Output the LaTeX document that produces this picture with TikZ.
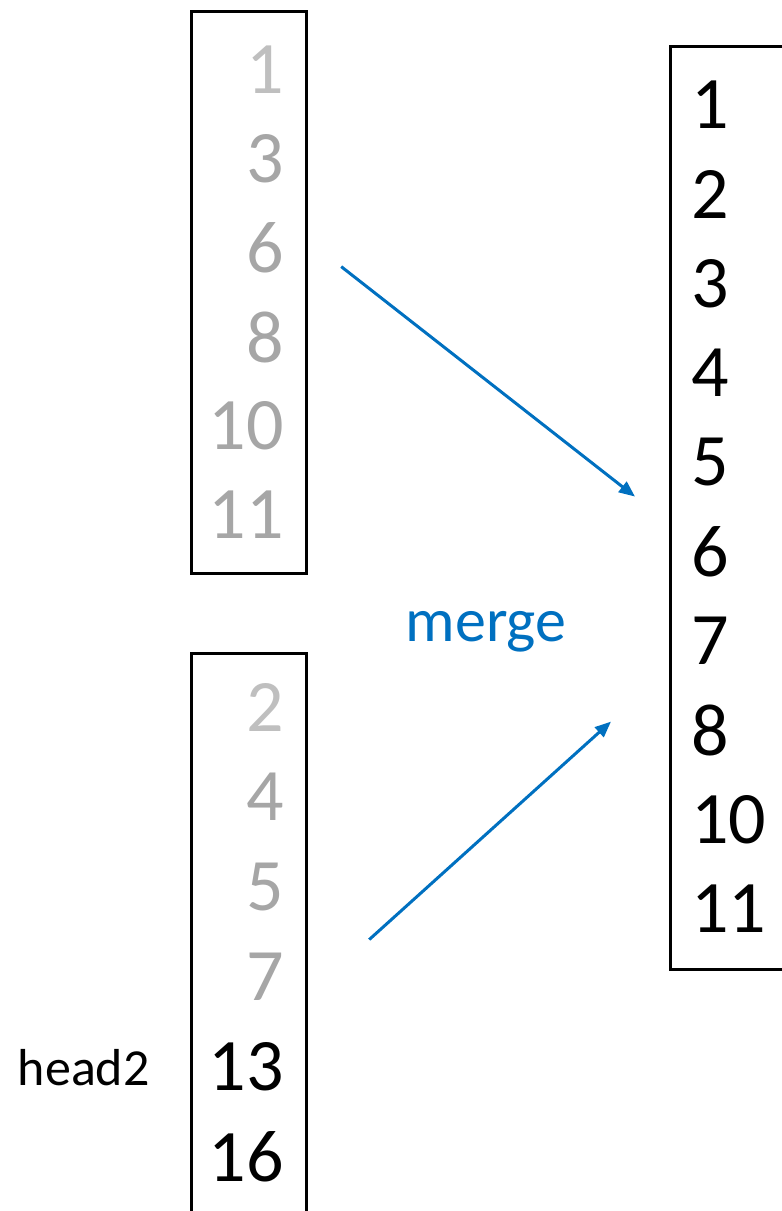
\documentclass[tikz,border=0pt]{standalone}
\usepackage{fontspec}
\setmainfont{Carlito}
\usetikzlibrary{arrows.meta, positioning, calc}
\definecolor{mergeblue}{RGB}{0, 112, 192}
\definecolor{donegray}{RGB}{166, 166, 166}
\definecolor{headgray}{RGB}{191, 191, 191}

\begin{document}
\begin{tikzpicture}[
  x=0.5pt, y=-0.5pt,
  list/.style={draw=black, line width=1.6pt, inner sep=0pt, anchor=north west},
  num/.style={font=\fontsize{37}{44}\selectfont, inner sep=0pt},
  arrow/.style={-{Triangle[length=8pt, width=6.5pt]}, line width=1.5pt, color=mergeblue}
]
  \useasboundingbox (0,0) rectangle (782,1211);

  % Eingabelisten
  \node[list, minimum width=57.5pt, minimum height=281pt] (run1) at (190,10) {};
  \node[list, minimum width=57.5pt, minimum height=300pt] (run2) at (190,652) {};
  \node[num, text=headgray, anchor=east] (a0) at (284,70) {1};
  \foreach \v [count=\i] in {3,6,8,10,11}
    \node[num, text=donegray, anchor=east] (a\i) at (284,{70+89*\i}) {\v};
  \foreach \v/\c [count=\i from 0] in {2/headgray, 4/donegray, 5/donegray, 7/donegray, 13/black, 16/black}
    \node[num, text=\c, anchor=east] (b\i) at (284,{707+90*\i}) {\v};
  \node[font=\fontsize{26}{31}\selectfont, anchor=east, inner sep=0pt] (head) at (150,1068) {head2};

  % Ergebnis
  \node[list, minimum width=80pt, minimum height=461.5pt] (merged) at (669,45) {};
  \foreach \v [count=\i from 0] in {1,2,3,4,5,6,7,8,10,11}
    \node[num, anchor=west] (c\i) at (691,{105+89.3*\i}) {\v};

  \node[font=\fontsize{31}{37}\selectfont, text=mergeblue, anchor=base] (mergelbl) at (486,641) {merge};

  \coordinate (from1) at ($(run1.east)+(33,-26)$);
  \coordinate (from2) at ($(run2.east)+(61,-14)$);
  \coordinate (to1) at ($(merged.west)+(-34,-11.5)$);
  \coordinate (to2) at ($(merged.west)+(-58,213.5)$);
  \draw[arrow] (from1) -- (to1);
  \draw[arrow] (from2) -- (to2);

\end{tikzpicture}
\end{document}
